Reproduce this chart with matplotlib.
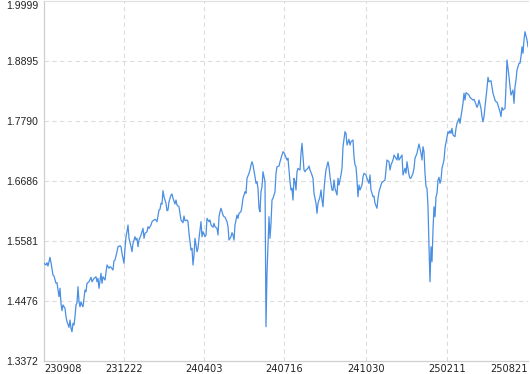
import matplotlib
matplotlib.use('Agg')
import matplotlib.pyplot as plt

# trading-day index (0 = 230908) and net value
day = [0, 2, 3, 4, 6, 7, 9, 10, 12, 13, 14, 15, 16, 17, 18, 19, 21, 22, 23, 25,
       26, 27, 28, 29, 30, 31, 32, 33, 34, 35, 36, 37, 38, 39, 41, 42, 43, 45, 47, 48,
       50, 52, 53, 54, 55, 57, 58, 59, 61, 62, 63, 65, 66, 67, 69, 70, 71, 73, 74, 76,
       77, 78, 80,
       81, 82, 83, 84, 85, 87, 88, 89, 91, 92, 93, 94, 95, 97, 98, 99, 100, 101, 103, 104,
       105, 107, 108, 109, 111, 112, 113, 115, 116, 117, 118, 119, 120, 122, 123, 124, 125, 127, 128, 129,
       131, 132, 133, 135, 136, 137, 139, 140, 141, 143, 144, 145, 147, 148, 149, 150, 151, 153, 154, 155,
       157,
       158, 159, 161, 162, 163, 165, 166, 167, 169, 170, 171, 173, 174, 175, 176, 177, 179, 180, 181, 183,
       184, 185, 187, 188, 189, 190, 191, 193, 194, 195, 197, 198, 199, 201, 202, 203, 205, 206, 207, 208,
       209, 211, 212, 213, 214, 215, 216, 217, 218, 219, 220, 221, 222, 223, 225, 226, 227, 228, 229, 231,
       232, 233, 235, 236, 237, 239, 240,
       241, 243, 244, 245, 246, 247, 248, 249, 250, 251, 252, 253, 254, 256, 257, 258, 260, 261, 262, 264,
       265, 266, 268, 269, 270, 272, 273, 274, 276, 277, 278, 279, 280, 281, 282, 284, 285, 286, 288, 289,
       290, 291, 293, 294, 295, 297, 298, 299, 301, 302, 303, 305, 306, 307, 309, 310, 311, 312, 313, 314,
       315, 316, 318, 319, 320, 322, 323,
       325, 326, 327, 329, 330, 331, 333, 334, 335, 337, 338, 339, 341, 342, 343, 345, 346, 347, 349, 350,
       351, 353, 354, 355, 357, 358, 359, 361, 362, 363, 365, 366, 367, 369, 370, 371, 373, 374, 375, 377,
       378, 379, 380, 381, 382, 383, 384, 385, 386, 387, 388, 389, 390, 391, 392, 393, 394, 395, 396, 397,
       398, 400, 401, 403, 404, 405, 406,
       407, 408, 409, 411, 412, 413, 415, 416, 417, 419, 420, 421, 422, 423, 425, 426, 427, 429, 430, 431,
       433, 434, 435, 437, 438, 439, 440, 441, 443, 444, 445, 447, 448, 449, 451, 452, 453, 455, 456, 457,
       458, 459, 461, 462, 463, 465, 466, 467, 469, 470, 471, 472, 473, 475, 476, 477, 478, 479, 480, 481,
       482, 483, 484]

nav = [1.5170, 1.5139, 1.5181, 1.5121, 1.5281, 1.5181, 1.4955, 1.4936, 1.4802, 1.4813,
       1.4679, 1.4555, 1.4710, 1.4434, 1.4298, 1.4403, 1.4342, 1.4187, 1.4095, 1.3992,
       1.4126, 1.3974, 1.3911, 1.4066, 1.4034, 1.4187, 1.4403, 1.4445, 1.4739, 1.4463,
       1.4371, 1.4463, 1.4403, 1.4371, 1.4679, 1.4647, 1.4802, 1.4831, 1.4912, 1.4831,
       1.4894, 1.4923, 1.4831, 1.4894, 1.4710, 1.4986, 1.4802, 1.4923, 1.4863, 1.4997,
       1.5139, 1.5078, 1.5108, 1.5097, 1.5047, 1.5218, 1.5231, 1.5384, 1.5476, 1.5494,
       1.5476, 1.5354, 1.5170,
       1.5446, 1.5660, 1.5752, 1.5875, 1.5630, 1.5476, 1.5384, 1.5538, 1.5660, 1.5599,
       1.5630, 1.5476, 1.5599, 1.5691, 1.5752, 1.5814, 1.5630, 1.5722, 1.5752, 1.5844,
       1.5814, 1.5875, 1.5936, 1.5954, 1.5980, 1.5967, 1.5936, 1.6151, 1.6164, 1.6275,
       1.6260, 1.6507, 1.6396, 1.6275, 1.6138, 1.6151, 1.6304, 1.6427, 1.6446, 1.6367,
       1.6262, 1.6335, 1.6243, 1.6212, 1.6091, 1.5967, 1.5918, 1.6041, 1.5954, 1.5967,
       1.5936, 1.5722, 1.5415, 1.5446, 1.5139, 1.5323, 1.5630, 1.5384, 1.5446, 1.5630,
       1.5936,
       1.5660, 1.5752, 1.5660, 1.5691, 1.5998, 1.5936, 1.5967, 1.5875, 1.5833, 1.5906,
       1.5844, 1.5814, 1.5691, 1.6028, 1.6120, 1.6183, 1.6059, 1.6028, 1.6020, 1.5936,
       1.5844, 1.5599, 1.5660, 1.5734, 1.5691, 1.5599, 1.5875, 1.6059, 1.5998, 1.6091,
       1.6120, 1.6225, 1.6367, 1.6488, 1.6459, 1.6735, 1.6827, 1.6888, 1.6980, 1.7040,
       1.6980, 1.6764, 1.6643, 1.6672, 1.6551, 1.6183, 1.6120, 1.6488, 1.6580, 1.6856,
       1.6764, 1.6672, 1.4003, 1.4986, 1.6028, 1.5630, 1.5906, 1.6335, 1.6367, 1.6488,
       1.6827, 1.6948, 1.6961, 1.7040, 1.7103, 1.7225, 1.7206,
       1.7164, 1.7072, 1.7103, 1.6888, 1.6672, 1.6520, 1.6551, 1.6335, 1.6735, 1.6672,
       1.6520, 1.6856, 1.6919, 1.6888, 1.7195, 1.7379, 1.6888, 1.6856, 1.6888, 1.6919,
       1.6961, 1.6888, 1.6796, 1.6735, 1.6459, 1.6275, 1.6091, 1.6275, 1.6396, 1.6520,
       1.6335, 1.6212, 1.6520, 1.6735, 1.6888, 1.7040, 1.6948, 1.6764, 1.6520, 1.6510,
       1.6704, 1.6551, 1.6427, 1.6735, 1.6612, 1.6796, 1.6919, 1.7317, 1.7593, 1.7563,
       1.7348, 1.7453, 1.7348, 1.7409, 1.7440, 1.7133, 1.6980, 1.6948, 1.6704, 1.6396,
       1.6612, 1.6520, 1.6612, 1.6764, 1.6827, 1.6796, 1.6735,
       1.6643, 1.6796, 1.6520, 1.6396, 1.6409, 1.6275, 1.6183, 1.6367, 1.6488, 1.6612,
       1.6661, 1.6672, 1.6704, 1.6888, 1.7072, 1.7040, 1.6888, 1.6980, 1.7072, 1.7164,
       1.7133, 1.7072, 1.7195, 1.7072, 1.7133, 1.7164, 1.6796, 1.6919, 1.6827, 1.7040,
       1.6796, 1.6735, 1.6740, 1.6827, 1.6919, 1.7103, 1.7195, 1.7287, 1.7366, 1.7195,
       1.7072, 1.7317, 1.7225, 1.6827, 1.6580, 1.6551, 1.6212, 1.5476, 1.4831, 1.5476,
       1.5200, 1.5783, 1.6212, 1.6028, 1.6396, 1.6459, 1.6704, 1.6753, 1.6643, 1.6704,
       1.6919, 1.7072, 1.7293, 1.7495, 1.7593, 1.7563, 1.7611,
       1.7563, 1.7655, 1.7532, 1.7501, 1.7655, 1.7747, 1.7839, 1.7747, 1.7869, 1.8115,
       1.8300, 1.8176, 1.8311, 1.8300, 1.8268, 1.8226, 1.8208, 1.8176, 1.8189, 1.8145,
       1.8042, 1.8084, 1.8176, 1.8023, 1.7869, 1.7777, 1.7869, 1.8053, 1.8392, 1.8594,
       1.8513, 1.8532, 1.8421, 1.8300, 1.8176, 1.8145, 1.8140, 1.8023, 1.7961, 1.7869,
       1.8042, 1.7992, 1.8023, 1.8421, 1.8913, 1.8605, 1.8421, 1.8268, 1.8360, 1.8115,
       1.8421, 1.8544, 1.8728, 1.8852, 1.8852, 1.8973, 1.9157, 1.9036, 1.9281, 1.9434,
       1.9360, 1.9281, 1.9157]

x_ticks = [0, 80, 160, 240, 322, 403, 484]
x_labels = ['230908', '231222', '240403', '240716', '241030', '250211', '250821']
y_ticks = [1.3372, 1.44765, 1.5581, 1.66855, 1.7790, 1.88945, 1.9999]
y_labels = ['1.3372', '1.4476', '1.5581', '1.6686', '1.7790', '1.8895', '1.9999']

fig = plt.figure(figsize=(5.30, 3.74), dpi=100)
ax = fig.add_axes([44 / 530, 13 / 374, 484 / 530, 360 / 374])

ax.plot(day, nav, color='#4a8fe3', lw=0.9, zorder=3)

ax.set_xlim(0, 484)
ax.set_ylim(1.3372, 1.9999)

# dashed grid
for yt in y_ticks[1:-1]:
    ax.axhline(yt, color='#dcdcdc', lw=0.8, ls=(0, (4, 3)), zorder=1)
for xt in x_ticks[1:]:
    ax.axvline(xt, color='#dcdcdc', lw=0.8, ls=(0, (4, 3)), zorder=1)

ax.spines['right'].set_visible(False)
ax.spines['top'].set_color('#e0e0e0')
ax.spines['left'].set_color('#cfcfcf')
ax.spines['bottom'].set_color('#cfcfcf')
for s in ax.spines.values():
    s.set_linewidth(0.9)

ax.set_xticks(x_ticks)
ax.set_xticklabels(x_labels, fontsize=7.1, color='#222222',
                   family=['Liberation Sans Narrow', 'DejaVu Sans'])
ax.set_yticks(y_ticks)
ax.set_yticklabels(y_labels, fontsize=7.5, color='#222222', family='Liberation Sans')
ax.tick_params(axis='both', length=0)
ax.tick_params(axis='y', pad=4)
ax.tick_params(axis='x', pad=2.5)

xl = ax.get_xticklabels()
xl[0].set_ha('left')
xl[-1].set_ha('right')
yl = ax.get_yticklabels()
yl[-1].set_va('top')

fig.savefig('out.png', dpi=100)
